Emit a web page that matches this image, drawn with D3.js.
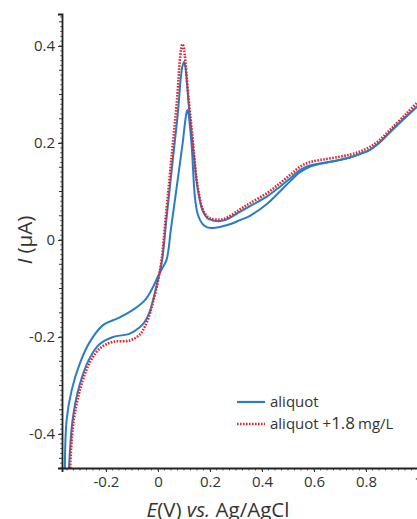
<!DOCTYPE html>
<html><head><meta charset="utf-8">
<script src="https://cdn.jsdelivr.net/npm/d3@7"></script>
<style>body{margin:0;background:#fff}svg{display:block}text{font-family:"Open Sans",sans-serif;fill:#333}</style>
</head><body><svg id="c" width="417" height="519"></svg>
<script>
// Potential (V) and current (µA) for each curve
const redE = [-0.338,-0.325,-0.298,-0.26,-0.22,-0.173,-0.108,-0.07,-0.05,-0.03,-0.019,0,0.014,0.03,0.054,0.075,0.083,0.089,0.094,0.099,0.106,0.118,0.13,0.14,0.149,0.16,0.168,0.18,0.2,0.25,0.315,0.354,0.42,0.469,0.51,0.546,0.58,0.623,0.68,0.738,0.78,0.815,0.85,0.892,0.956,1.0];
const redI = [-0.47,-0.375,-0.305,-0.25,-0.222,-0.21,-0.207,-0.195,-0.178,-0.15,-0.128,-0.085,-0.041,0.047,0.18,0.3,0.364,0.393,0.404,0.397,0.364,0.29,0.227,0.17,0.124,0.088,0.07,0.055,0.045,0.043,0.063,0.076,0.097,0.117,0.135,0.151,0.16,0.165,0.17,0.176,0.183,0.192,0.205,0.227,0.261,0.285];
const blueAE = [-0.342,-0.328,-0.302,-0.264,-0.225,-0.173,-0.108,-0.07,-0.05,-0.03,-0.019,0,0.016,0.032,0.056,0.078,0.087,0.094,0.1,0.105,0.112,0.12,0.13,0.14,0.149,0.16,0.17,0.185,0.2,0.25,0.315,0.354,0.42,0.469,0.51,0.546,0.58,0.623,0.68,0.738,0.78,0.815,0.85,0.892,0.956,1.0];
const blueAI = [-0.47,-0.37,-0.3,-0.245,-0.215,-0.2,-0.193,-0.18,-0.168,-0.145,-0.124,-0.082,-0.041,0.04,0.16,0.27,0.33,0.358,0.367,0.358,0.32,0.27,0.215,0.165,0.12,0.085,0.063,0.048,0.042,0.04,0.058,0.07,0.09,0.11,0.128,0.144,0.153,0.158,0.163,0.17,0.178,0.186,0.2,0.222,0.255,0.277];
const blueBE = [-0.358,-0.351,-0.332,-0.3,-0.262,-0.21,-0.153,-0.096,-0.05,-0.019,0,0.015,0.033,0.05,0.072,0.095,0.106,0.11,0.113,0.117,0.122,0.13,0.142,0.152,0.162,0.175,0.19,0.21,0.238,0.28,0.315,0.354,0.42,0.469,0.51,0.546,0.58,0.623,0.68,0.738,0.78,0.815,0.85,0.892,0.956,1.0];
const blueBI = [-0.47,-0.37,-0.31,-0.254,-0.21,-0.175,-0.161,-0.144,-0.124,-0.097,-0.075,-0.06,-0.041,0.023,0.109,0.2,0.25,0.263,0.268,0.262,0.24,0.192,0.089,0.055,0.041,0.031,0.026,0.025,0.027,0.033,0.041,0.05,0.075,0.1,0.122,0.14,0.15,0.157,0.163,0.17,0.178,0.186,0.2,0.222,0.255,0.277];
const xTicks = [-0.2,0,0.2,0.4,0.6,0.8,1];
const xTickLabels = ["-0.2","0","0.2","0.4","0.6","0.8","1"];
const yTicks = [-0.4,-0.2,0,0.2,0.4];
const yTickLabels = ["-0.4","-0.2","0","0.2","0.4"];
const legendLabels = ["aliquot","aliquot +"];

const svg = d3.select("#c");
const x = d3.scaleLinear().domain([-0.369,1.0]).range([62,418]);
const y = d3.scaleLinear().domain([-0.47,0.466]).range([468,14]);

const zip = (a,b)=>a.map((v,i)=>[v,b[i]]);
const line = d3.line().x(d=>x(d[0])).y(d=>y(d[1])).curve(d3.curveCatmullRom.alpha(0.5));

const plot = svg.append("g");
plot.append("path").datum(zip(blueBE,blueBI)).attr("d",line).attr("fill","none").attr("stroke","#2a7cc4").attr("stroke-width",2);
plot.append("path").datum(zip(blueAE,blueAI)).attr("d",line).attr("fill","none").attr("stroke","#2a7cc4").attr("stroke-width",2);
plot.append("path").datum(zip(redE,redI)).attr("d",line).attr("fill","none").attr("stroke","#e8212b").attr("stroke-width",2.6).attr("stroke-dasharray","1.6,1.4");

// minor ticks
const ax = svg.append("g").attr("stroke","#333");
d3.range(-0.47,0.466,0.01).forEach(v=>{
  const vv = Math.round(v*100)/100;
  const isMid = Math.abs(vv*20-Math.round(vv*20))<1e-6;
  ax.append("line").attr("x1",62).attr("x2",62-(isMid?3:1.8)).attr("y1",y(vv)).attr("y2",y(vv)).attr("stroke-width",isMid?1:0.8);
});
d3.range(-0.35,1.01,0.025).forEach(v=>{
  ax.append("line").attr("y1",468).attr("y2",470.5).attr("x1",x(v)).attr("x2",x(v)).attr("stroke-width",0.8);
});

const yAxis = d3.axisLeft(y).tickValues(yTicks).tickFormat((d,i)=>yTickLabels[i]).tickSize(4).tickPadding(3);
const gy = svg.append("g").attr("transform","translate(62,0)").call(yAxis);
const xAxis = d3.axisBottom(x).tickValues(xTicks).tickFormat((d,i)=>xTickLabels[i]).tickSize(4).tickPadding(4);
const gx = svg.append("g").attr("transform","translate(0,468)").call(xAxis);
[gx,gy].forEach(g=>{
  g.select(".domain").attr("stroke","#222").attr("stroke-width",1.8);
  g.selectAll(".tick line").attr("stroke","#333");
  g.selectAll(".tick text").attr("font-size",15).attr("fill","#333").style("font-family","Open Sans");
});

// axis titles
const xt = svg.append("text").attr("x",218).attr("y",517).attr("text-anchor","middle").attr("font-size",20.5);
xt.append("tspan").attr("font-style","italic").text("E");
xt.append("tspan").text("(V) ");
xt.append("tspan").attr("font-style","italic").text("vs.");
xt.append("tspan").text(" Ag/AgCl");

const yt = svg.append("text").attr("transform","translate(32,240) rotate(-90)").attr("text-anchor","middle").attr("font-size",20.5);
yt.append("tspan").attr("font-style","italic").text("I");
yt.append("tspan").text(" (μA)");

// legend
const lg = svg.append("g");
lg.append("line").attr("x1",237).attr("x2",265).attr("y1",402).attr("y2",402).attr("stroke","#2a7cc4").attr("stroke-width",2.2);
lg.append("text").attr("x",270).attr("y",407).attr("font-size",15).text(legendLabels[0]);
lg.append("line").attr("x1",237).attr("x2",265).attr("y1",424).attr("y2",424).attr("stroke","#e8212b").attr("stroke-width",2.4).attr("stroke-dasharray","1.6,1.4");
const l2 = lg.append("text").attr("x",270).attr("y",429).attr("font-size",15);
l2.append("tspan").text(legendLabels[1]);
l2.append("tspan").attr("font-size",17).text("1.8");
l2.append("tspan").attr("dx",3).text("mg/L");
</script></body></html>
